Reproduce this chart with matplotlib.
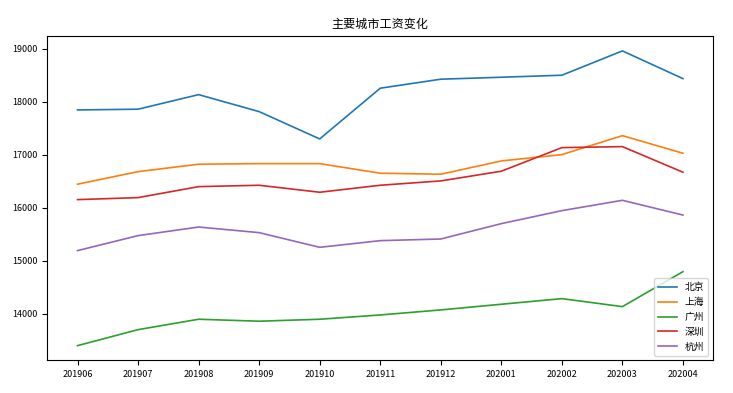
import matplotlib
matplotlib.use("Agg")
import matplotlib.pyplot as plt

plt.rcParams['font.family'] = ['Noto Sans CJK SC', 'DejaVu Sans']
plt.rcParams['axes.unicode_minus'] = False

months = ["201906", "201907", "201908", "201909", "201910", "201911",
          "201912", "202001", "202002", "202003", "202004"]
beijing = [17843, 17857, 18132, 17811, 17296, 18253, 18423, 18460, 18498, 18957, 18434]
shanghai = [16442, 16679, 16819, 16830, 16830, 16649, 16630, 16881, 17000, 17358, 17026]
guangzhou = [13396, 13698, 13894, 13857, 13894, 13975, 14070, 14177, 14283, 14132, 14792]
shenzhen = [16151, 16189, 16396, 16422, 16290, 16422, 16504, 16687, 17132, 17151, 16668]
hangzhou = [15189, 15472, 15634, 15528, 15251, 15377, 15408, 15698, 15943, 16138, 15860]
cities = ["北京", "上海", "广州", "深圳", "杭州"]

fig = plt.figure(figsize=(7.33, 3.93), dpi=100)
ax = fig.add_axes([0.0645, 0.083, 0.9085, 0.825])
for name, vals in zip(cities, [beijing, shanghai, guangzhou, shenzhen, hangzhou]):
    ax.plot(months, vals, label=name, linewidth=1.2)
ax.set_title("主要城市工资变化", fontsize=8.7)
ax.tick_params(labelsize=6.5)
ax.legend(loc="lower right", fontsize=7)
fig.savefig("out.png", dpi=100)
